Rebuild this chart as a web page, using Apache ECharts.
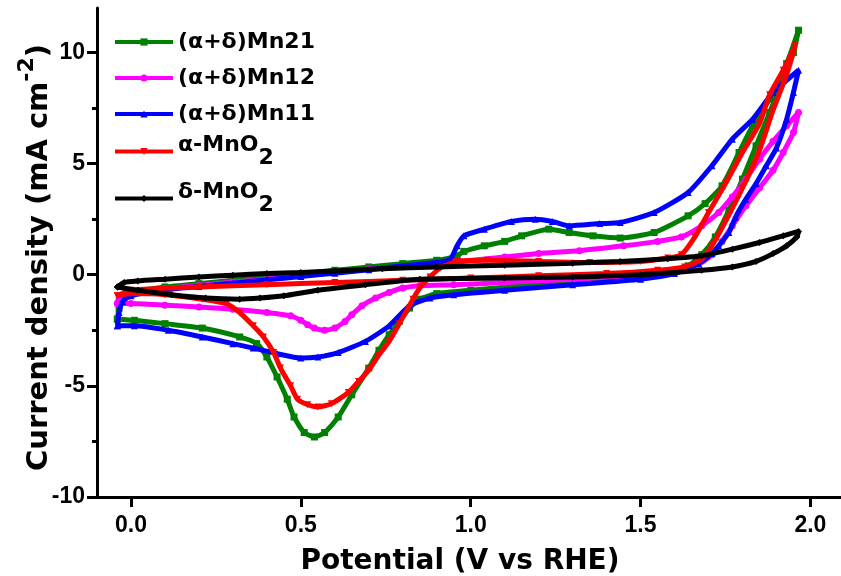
<!DOCTYPE html>
<html><head><meta charset="utf-8">
<script src="https://cdn.jsdelivr.net/npm/echarts@6/dist/echarts.min.js"></script>
<style>html,body{margin:0;padding:0;background:#fff}#c{width:841px;height:576px}</style>
</head><body><div id="c"></div>
<script>
const xTicks = [0, 0.5, 1, 1.5, 2];
const yTicks = [-10, -5, 0, 5, 10];
const yMinorTicks = [-7.5, -2.5, 2.5, 7.5];
const seriesNames = ['(α+δ)Mn21', '(α+δ)Mn12', '(α+δ)Mn11', 'α-MnO2', 'δ-MnO2'];

const mn21 = [[-0.04,-2.0],[-0.035,-1.5],[-0.02,-1.0],[0.02,-0.75],[0.1,-0.55],[0.2,-0.4],[0.3,-0.25],[0.4,-0.1],[0.5,0.05],[0.6,0.2],[0.7,0.35],[0.8,0.5],[0.9,0.65],[0.96,0.85],[0.98,1.05],[1.04,1.3],[1.1,1.5],[1.15,1.75],[1.23,2.05],[1.29,1.9],[1.36,1.75],[1.44,1.65],[1.54,1.9],[1.64,2.65],[1.69,3.2],[1.74,4.0],[1.79,5.5],[1.83,6.7],[1.88,7.9],[1.93,9.5],[1.965,11.0],
  [1.95,10.0],[1.92,8.8],[1.88,7.3],[1.84,5.8],[1.80,4.3],[1.76,2.9],[1.72,1.7],[1.68,0.9],[1.64,0.4],[1.58,0.1],[1.45,-0.1],[1.3,-0.3],[1.15,-0.5],[1.0,-0.7],[0.9,-0.85],[0.85,-1.1],[0.82,-1.5],[0.79,-2.1],[0.76,-2.7],[0.73,-3.4],[0.70,-4.2],[0.65,-5.4],[0.61,-6.4],[0.57,-7.1],[0.54,-7.3],[0.51,-7.1],[0.48,-6.4],[0.46,-5.6],[0.43,-4.6],[0.40,-3.7],[0.37,-3.1],[0.32,-2.8],[0.21,-2.4],[0.1,-2.2],[0.01,-2.05],[-0.04,-2.0]];

const mn12 = [[-0.04,-1.3],[-0.035,-1.0],[-0.01,-0.8],[0.05,-0.7],[0.1,-0.62],[0.2,-0.48],[0.3,-0.33],[0.4,-0.2],[0.5,-0.05],[0.6,0.1],[0.7,0.25],[0.8,0.38],[0.9,0.5],[0.97,0.6],[1.1,0.8],[1.2,0.95],[1.32,1.08],[1.45,1.3],[1.55,1.5],[1.62,1.7],[1.68,2.2],[1.73,2.8],[1.77,3.5],[1.81,4.3],[1.85,5.2],[1.89,6.0],[1.93,6.7],[1.965,7.3],
  [1.95,6.4],[1.92,5.5],[1.89,4.7],[1.85,3.9],[1.81,3.1],[1.77,2.2],[1.74,1.5],[1.71,0.9],[1.67,0.45],[1.6,0.1],[1.5,-0.05],[1.3,-0.2],[1.1,-0.35],[0.95,-0.45],[0.85,-0.5],[0.8,-0.6],[0.76,-0.8],[0.72,-1.05],[0.68,-1.4],[0.65,-1.8],[0.63,-2.1],[0.60,-2.4],[0.57,-2.5],[0.54,-2.4],[0.52,-2.25],[0.50,-2.05],[0.47,-1.85],[0.4,-1.7],[0.3,-1.55],[0.2,-1.45],[0.1,-1.37],[0.0,-1.3],[-0.04,-1.3]];

const mn11 = [[-0.04,-2.3],[-0.035,-1.7],[-0.025,-1.2],[0.0,-0.95],[0.1,-0.68],[0.2,-0.53],[0.3,-0.38],[0.4,-0.23],[0.5,-0.08],[0.6,0.07],[0.7,0.22],[0.8,0.4],[0.9,0.55],[0.94,0.7],[0.96,1.3],[0.98,1.75],[1.04,2.05],[1.12,2.4],[1.19,2.5],[1.24,2.4],[1.29,2.2],[1.38,2.3],[1.44,2.35],[1.54,2.8],[1.64,3.7],[1.71,4.9],[1.77,6.1],[1.83,7.0],[1.89,8.2],[1.965,9.2],
  [1.95,8.2],[1.93,7.0],[1.90,5.7],[1.87,4.9],[1.84,4.1],[1.81,3.4],[1.78,2.6],[1.76,1.9],[1.73,1.3],[1.71,0.95],[1.67,0.5],[1.6,0.05],[1.5,-0.2],[1.3,-0.45],[1.1,-0.7],[0.95,-0.9],[0.88,-1.05],[0.82,-1.4],[0.76,-2.3],[0.69,-3.0],[0.61,-3.5],[0.55,-3.7],[0.5,-3.75],[0.43,-3.55],[0.36,-3.3],[0.30,-3.1],[0.21,-2.8],[0.11,-2.5],[0.01,-2.3],[-0.04,-2.3]];

const alphaMnO2 = [[-0.04,-0.95],[0.0,-0.85],[0.1,-0.9],[0.21,-1.1],[0.28,-1.3],[0.32,-1.7],[0.36,-2.3],[0.39,-2.8],[0.42,-3.5],[0.44,-4.2],[0.47,-5.0],[0.49,-5.6],[0.52,-5.85],[0.55,-5.95],[0.59,-5.8],[0.64,-5.3],[0.67,-4.8],[0.70,-4.3],[0.73,-3.6],[0.76,-3.0],[0.79,-2.2],[0.83,-1.1],[0.85,-0.6],[0.88,-0.1],[0.91,0.3],[0.96,0.6],[1.05,0.65],[1.2,0.6],[1.35,0.55],[1.5,0.6],[1.58,0.75],[1.62,0.9],[1.66,1.7],[1.70,2.8],[1.75,4.1],[1.80,5.5],[1.85,6.8],[1.88,8.1],[1.92,9.2],[1.955,10.3],
  [1.93,9.0],[1.89,7.4],[1.85,5.6],[1.80,3.9],[1.75,2.4],[1.71,1.3],[1.68,0.7],[1.63,0.35],[1.55,0.2],[1.4,0.05],[1.2,-0.05],[1.0,-0.15],[0.8,-0.25],[0.6,-0.35],[0.4,-0.45],[0.2,-0.55],[0.0,-0.7],[-0.04,-0.95]];

const deltaMnO2 = [[-0.04,-0.55],[-0.02,-0.35],[0.02,-0.28],[0.1,-0.2],[0.2,-0.1],[0.3,-0.02],[0.4,0.05],[0.5,0.1],[0.6,0.17],[0.74,0.27],[0.9,0.35],[1.1,0.43],[1.3,0.52],[1.44,0.6],[1.58,0.72],[1.68,0.85],[1.77,1.15],[1.85,1.45],[1.92,1.75],[1.965,1.95],
  [1.96,1.7],[1.93,1.3],[1.89,0.95],[1.84,0.6],[1.77,0.35],[1.68,0.2],[1.5,0.0],[1.3,-0.1],[1.1,-0.15],[0.85,-0.2],[0.69,-0.45],[0.55,-0.7],[0.45,-0.95],[0.38,-1.05],[0.32,-1.1],[0.22,-1.05],[0.12,-0.9],[0.02,-0.7],[-0.04,-0.55]];

const dataList = [mn21, mn12, mn11, alphaMnO2, deltaMnO2];
const colors = ['#008000', '#ff00ff', '#0000ff', '#ff0000', '#000000'];
const symbols = ['rect', 'circle', 'triangle', 'path://M0,0L10,0L5,10Z', 'diamond'];
const legendTops = [31, 67, 103, 134, 181];

const bold = {fontFamily: 'DejaVu Sans', fontWeight: 'bold', color: '#000'};
const tickFont = {fontFamily: 'Liberation Sans', fontWeight: 'bold', fontSize: 23, color: '#000'};

const chart = echarts.init(document.getElementById('c'), null, {renderer: 'canvas'});
chart.setOption({
  animation: false,
  backgroundColor: '#fff',
  grid: {left: 97, right: 0, top: 8, bottom: 79, containLabel: false, outerBoundsMode: 'none'},
  legend: seriesNames.map((n, i) => ({
    data: [n], left: 113, top: legendTops[i], padding: 0, orient: 'vertical',
    itemWidth: 58, itemHeight: 9, itemGap: 0, selectedMode: false,
    lineStyle: {width: 4},
    formatter: name => name.endsWith('O2') ? '{m|' + name.slice(0, -1) + '}{s|2}' : name,
    textStyle: Object.assign({fontSize: 22, rich: {
      m: Object.assign({fontSize: 22, verticalAlign: 'top'}, bold),
      s: Object.assign({fontSize: 22, padding: [13, 0, 0, 0]}, bold)
    }}, bold)
  })),
  xAxis: {
    type: 'value', min: -0.1, max: 2.09,
    axisLine: {show: true, onZero: false, lineStyle: {color: '#000', width: 3}},
    axisTick: {show: true, length: 10, customValues: xTicks, lineStyle: {color: '#000', width: 3}},
    axisLabel: Object.assign({customValues: xTicks, margin: 17, formatter: v => v.toFixed(1)}, tickFont),
    splitLine: {show: false},
    name: 'Potential (V vs RHE)', nameLocation: 'middle', nameGap: 51, nameMoveOverlap: false,
    nameTextStyle: Object.assign({fontSize: 28, padding: [0, 18, 0, 0]}, bold)
  },
  yAxis: [{
    type: 'value', min: -10, max: 12,
    axisLine: {show: true, onZero: false, lineStyle: {color: '#000', width: 3}},
    axisTick: {show: true, length: 10, customValues: yTicks, lineStyle: {color: '#000', width: 3}},
    axisLabel: Object.assign({customValues: yTicks, margin: 12}, tickFont),
    splitLine: {show: false},
    name: 'Current density (mA cm{sup|-2})', nameLocation: 'middle', nameGap: 35, nameRotate: 90, nameMoveOverlap: false,
    nameTextStyle: Object.assign({fontSize: 29, padding: [0, 10, 0, 0], rich: {
      sup: Object.assign({fontSize: 22, padding: [0, 0, 24, 0]}, bold)
    }}, bold)
  }, {
    type: 'value', min: -10, max: 12, position: 'left',
    axisLine: {show: false, onZero: false},
    axisTick: {show: true, length: 5, customValues: yMinorTicks, lineStyle: {color: '#000', width: 3}},
    axisLabel: {show: false},
    splitLine: {show: false}
  }],
  series: dataList.map((d, i) => ({
    name: seriesNames[i], type: 'line', data: d, yAxisIndex: 0,
    smooth: 0.2, symbol: symbols[i], symbolSize: 7, showSymbol: true,
    lineStyle: {width: 5, color: colors[i]}, itemStyle: {color: colors[i]},
    emphasis: {disabled: true}, z: 2 + i
  }))
});
</script></body></html>
